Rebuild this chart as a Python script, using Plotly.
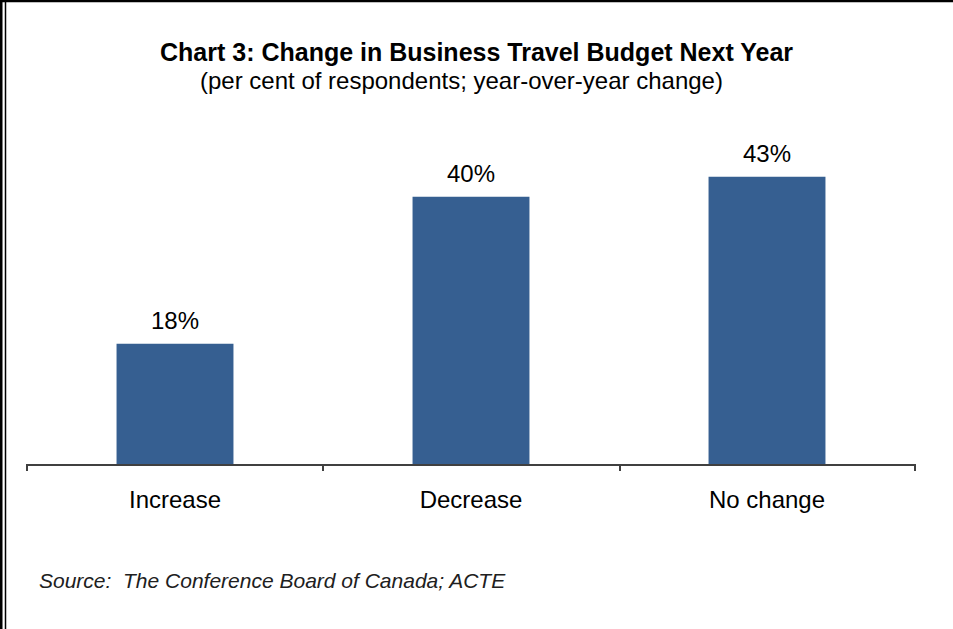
import plotly.graph_objects as go

categories = ["Increase", "Decrease", "No change"]
values = [18, 40, 43]
bar_labels = ["18%", "40%", "43%"]

title = "<b>Chart 3: Change in Business Travel Budget Next Year</b>"
subtitle = "(per cent of respondents; year-over-year change)"
source = "Source:  The Conference Board of Canada; ACTE"

W, H = 953, 629
L, R, T, B = 27, 38, 130, 165
pw, ph = W - L - R, H - T - B


def px_x(x):
    return (x - L) / pw


def px_y(y):
    return (H - B - y) / ph


fig = go.Figure(go.Bar(
    x=categories, y=values,
    marker=dict(color="#365F91", line=dict(width=0)),
    width=0.395,
))

annotations = [
    dict(text=title, x=px_x(476), y=px_y(52), xref="paper", yref="paper",
         showarrow=False, font=dict(size=25), xanchor="center", yanchor="middle"),
    dict(text=subtitle, x=px_x(461), y=px_y(80), xref="paper", yref="paper",
         showarrow=False, font=dict(size=24), xanchor="center", yanchor="middle"),
    dict(text="<i>" + source + "</i>", x=px_x(37), y=px_y(580), xref="paper", yref="paper",
         showarrow=False, font=dict(size=21, color="#202020"), xanchor="left", yanchor="middle"),
]
for cat, v, lab in zip(categories, values, bar_labels):
    annotations.append(dict(text=lab, x=cat, y=v, xref="x", yref="y", showarrow=False,
                            font=dict(size=24), xanchor="center", yanchor="bottom", yshift=8))

fig.update_layout(
    width=W, height=H,
    margin=dict(l=L, r=R, t=T, b=B),
    plot_bgcolor="white", paper_bgcolor="white",
    font=dict(family="Liberation Sans, Arial, sans-serif", color="#000000"),
    showlegend=False,
    xaxis=dict(
        showline=True, linecolor="#404040", linewidth=2,
        ticks="", tickfont=dict(size=24), ticklabelstandoff=13,
        showgrid=False, zeroline=False,
    ),
    yaxis=dict(range=[0, 50], visible=False, showgrid=False, zeroline=False),
    annotations=annotations,
)

# category separator ticks below the axis
for xp in [27, 323, 620, 915]:
    fig.add_shape(type="line", xref="paper", yref="paper",
                  x0=px_x(xp), x1=px_x(xp), y0=px_y(464), y1=px_y(471),
                  line=dict(color="#404040", width=2))

# frame: double line on the left, line on top
fig.add_shape(type="line", xref="paper", yref="paper",
              x0=px_x(1), x1=px_x(1), y0=px_y(0), y1=px_y(H),
              line=dict(color="#000000", width=3))
fig.add_shape(type="line", xref="paper", yref="paper",
              x0=px_x(5.5), x1=px_x(5.5), y0=px_y(0), y1=px_y(H),
              line=dict(color="#000000", width=1.5))
fig.add_shape(type="line", xref="paper", yref="paper",
              x0=px_x(0), x1=px_x(W), y0=px_y(1), y1=px_y(1),
              line=dict(color="#000000", width=2.5))

fig.write_html(
    "out.html",
    config={"displayModeBar": False},
    post_script="document.body.style.margin='0';document.body.style.overflow='hidden';",
)
